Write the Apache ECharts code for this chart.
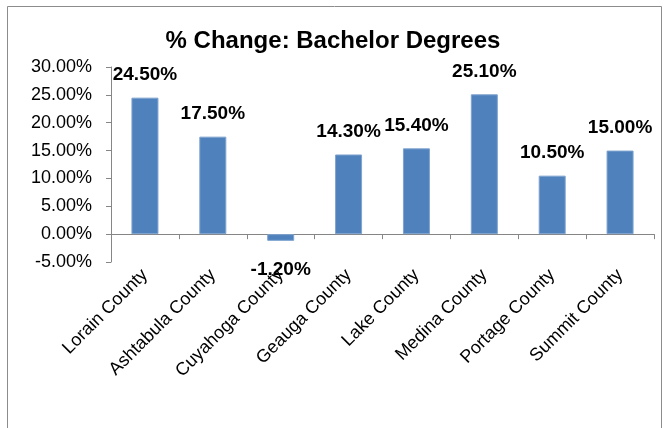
<!DOCTYPE html>
<html>
<head>
<meta charset="utf-8">
<script src="https://cdn.jsdelivr.net/npm/echarts@6/dist/echarts.min.js"></script>
<style>
html,body{margin:0;padding:0;background:#fff;}
#main{width:666px;height:428px;}
</style>
</head>
<body>
<div id="main"></div>
<script>
// counties and % change values
var counties = ['Lorain County', 'Ashtabula County', 'Cuyahoga County', 'Geauga County',
    'Lake County', 'Medina County', 'Portage County', 'Summit County'];
var changes = [24.5, 17.5, -1.2, 14.3, 15.4, 25.1, 10.5, 15.0];
var yTicks = [-5, 0, 5, 10, 15, 20, 25, 30];

var font = '"Liberation Sans", Arial, sans-serif';
var chart = echarts.init(document.getElementById('main'));

// negative bar gets its label underneath
var seriesData = changes.map(function (v) {
    var d = { value: v };
    if (v < 0) {
        d.label = { position: 'bottom', distance: 19 };
    }
    return d;
});

var option = {
    backgroundColor: '#fff',
    animation: false,
    title: {
        text: '% Change: Bachelor Degrees',
        left: 'center',
        top: 24,
        textStyle: { fontFamily: font, fontSize: 24, fontWeight: 'bold', color: '#000' }
    },
    graphic: [{
        type: 'rect',
        shape: { x: 7.5, y: 6.5, width: 654, height: 440 },
        style: { fill: null, stroke: '#8c8c8c', lineWidth: 1 },
        silent: true
    }],
    grid: { left: 111, right: 12, top: 67, bottom: 166 },
    xAxis: {
        type: 'category',
        data: counties,
        axisLine: { lineStyle: { color: '#868686' } },
        axisTick: { show: true, alignWithLabel: false, length: 5, lineStyle: { color: '#868686' } },
        axisLabel: {
            rotate: 45, interval: 0, margin: 10,
            fontFamily: font, fontSize: 18, color: '#000'
        }
    },
    yAxis: {
        type: 'value',
        min: yTicks[0],
        max: yTicks[yTicks.length - 1],
        interval: 5,
        splitLine: { show: false },
        axisLine: { show: true, lineStyle: { color: '#868686' } },
        axisTick: { show: true, length: 5, lineStyle: { color: '#868686' } },
        axisLabel: {
            margin: 19,
            fontFamily: font, fontSize: 18, color: '#000',
            formatter: function (v) { return v.toFixed(2) + '%'; }
        }
    },
    series: [{
        type: 'bar',
        data: seriesData,
        barWidth: 27,
        itemStyle: { color: '#4f81bd', borderColor: '#7fa3cf', borderWidth: 1 },
        label: {
            show: true,
            position: 'top',
            distance: 13,
            fontFamily: font, fontSize: 19, fontWeight: 'bold', color: '#000',
            formatter: function (p) { return p.value.toFixed(2) + '%'; }
        }
    }]
};
chart.setOption(option);
</script>
</body>
</html>
